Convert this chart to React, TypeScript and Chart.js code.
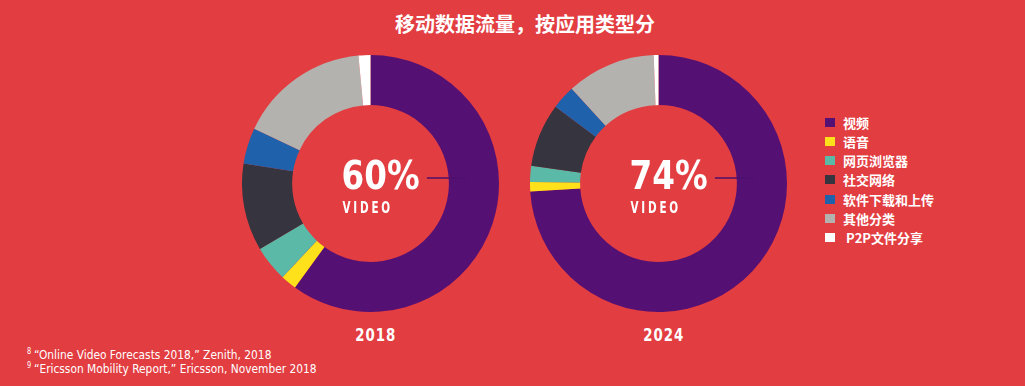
import React, { useEffect, useRef } from "react";
import { Chart, registerables } from "chart.js";

Chart.register(...registerables);

const categories = ["视频", "语音", "网页浏览器", "社交网络", "软件下载和上传", "其他分类", "P2P文件分享"];
const segmentColors = ["#551073", "#FFE11B", "#5BB9A7", "#35343F", "#1F62AB", "#B3B2AE", "#FFFFFF"];
const years = ["2018", "2024"];
const values2018 = [60, 2, 4.5, 11, 4.5, 16.5, 1.5];
const values2024 = [74, 1.2, 2, 8, 3, 11.2, 0.6];
const headlines = ["60%", "74%"];
const headlineLabel = "VIDEO";
const chartTitle = "移动数据流量，按应用类型分";
const footnotes = [
  { mark: "8", text: "\u201COnline Video Forecasts 2018,\u201D Zenith, 2018" },
  { mark: "9", text: "\u201CEricsson Mobility Report,\u201D Ericsson, November 2018" },
];

const BG = "#E23D41";
const COND = '"DejaVu Sans Condensed", "DejaVu Sans", sans-serif';
const CJK = '"Noto Sans CJK SC", "Noto Sans", sans-serif';

function drawSpaced(ctx: CanvasRenderingContext2D, text: string, x: number, y: number, sx: number, spacing: number) {
  let cx = x;
  for (const ch of text) {
    const w = ctx.measureText(ch).width * sx;
    ctx.save();
    ctx.translate(cx, y);
    ctx.scale(sx, 1);
    ctx.fillText(ch, 0, 0);
    ctx.restore();
    cx += w + spacing;
  }
}

const centerPlugin = {
  id: "centerText",
  afterDraw(chart: any, _args: any, opts: any) {
    const meta = chart.getDatasetMeta(0);
    const arc: any = meta.data[0];
    if (!arc) return;
    const { x, y, innerRadius, outerRadius } = arc.getProps(["x", "y", "innerRadius", "outerRadius"], true);
    const ctx: CanvasRenderingContext2D = chart.ctx;
    ctx.save();
    ctx.strokeStyle = "#4E0F6C";
    ctx.lineWidth = 1.3;
    ctx.beginPath();
    ctx.moveTo(x + innerRadius * 0.72, y - 5.5);
    ctx.lineTo(x + outerRadius * 0.74, y - 5.5);
    ctx.stroke();
    ctx.fillStyle = "#FFFFFF";
    ctx.textAlign = "left";
    ctx.textBaseline = "alphabetic";
    ctx.font = "bold 39px " + COND;
    ctx.save();
    ctx.translate(x - 29, y + 5);
    ctx.scale(0.93, 1);
    ctx.fillText(opts.headline, 0, 0);
    ctx.restore();
    ctx.font = "bold 16.5px " + COND;
    drawSpaced(ctx, opts.label, x - 28, y + 29, 0.7, 2.8);
    ctx.restore();
  },
};

function Donut({ values, headline, left, top }: { values: number[]; headline: string; left: number; top: number }) {
  const ref = useRef<HTMLCanvasElement | null>(null);
  useEffect(() => {
    if (!ref.current) return;
    const chart = new Chart(ref.current, {
      type: "doughnut",
      data: {
        labels: categories,
        datasets: [
          {
            data: values,
            backgroundColor: segmentColors,
            borderWidth: 0,
          },
        ],
      },
      options: {
        responsive: false,
        maintainAspectRatio: false,
        animation: false,
        devicePixelRatio: 1,
        cutout: "61%",
        events: [],
        layout: { padding: 0 },
        plugins: {
          legend: { display: false },
          tooltip: { enabled: false },
          centerText: { headline, label: headlineLabel },
        } as any,
      },
      plugins: [centerPlugin],
    });
    return () => chart.destroy();
  }, []);
  return (
    <canvas
      ref={ref}
      width={257}
      height={257}
      style={{ position: "absolute", left, top, width: 257, height: 257, display: "block" }}
    />
  );
}

export default function App() {
  const rowTop = 112.5;
  const pitch = 19.3;
  const yearCenters = [375.5, 664];
  return (
    <div
      style={{
        position: "fixed",
        left: 0,
        top: 0,
        width: 1025,
        height: 386,
        background: BG,
        overflow: "hidden",
        color: "#FFFFFF",
      }}
    >
      <div
        style={{
          position: "absolute",
          left: 393,
          top: 13,
          width: 264,
          textAlign: "center",
          font: "bold 20px " + CJK,
          lineHeight: "22px",
          whiteSpace: "nowrap",
        }}
      >
        {chartTitle}
      </div>

      <Donut values={values2018} headline={headlines[0]} left={242} top={55} />
      <Donut values={values2024} headline={headlines[1]} left={530} top={55} />

      {years.map((yr, i) => (
        <div
          key={yr}
          style={{
            position: "absolute",
            left: yearCenters[i] - 40,
            top: 325,
            width: 80,
            textAlign: "center",
            lineHeight: "19px",
          }}
        >
          <span
            style={{
              display: "inline-block",
              font: "bold 18.5px " + COND,
              lineHeight: "19px",
              letterSpacing: "1.3px",
              transform: "scaleX(0.8)",
              transformOrigin: "center top",
              whiteSpace: "nowrap",
            }}
          >
            {yr}
          </span>
        </div>
      ))}

      {categories.map((c, i) => (
        <div
          key={c}
          style={{
            position: "absolute",
            left: 825,
            top: rowTop + i * pitch,
            height: 19,
            display: "flex",
            alignItems: "center",
            whiteSpace: "nowrap",
          }}
        >
          <span
            style={{
              display: "inline-block",
              width: 10,
              height: 9,
              background: segmentColors[i],
              marginRight: 8,
            }}
          />
          <span style={{ font: "bold 13px " + CJK, lineHeight: "19px", paddingLeft: i === 6 ? 3 : 0 }}>{c}</span>
        </div>
      ))}

      {footnotes.map((f, i) => (
        <div
          key={f.mark}
          style={{
            position: "absolute",
            left: 26.5,
            top: 347.5 + i * 14.3,
            font: "13px " + COND,
            lineHeight: "14px",
            whiteSpace: "nowrap",
            transform: "scaleX(0.91)",
            transformOrigin: "left top",
          }}
        >
          <span style={{ fontSize: 8, verticalAlign: "top", lineHeight: "8px", marginRight: 3 }}>{f.mark}</span>
          {f.text}
        </div>
      ))}
    </div>
  );
}
